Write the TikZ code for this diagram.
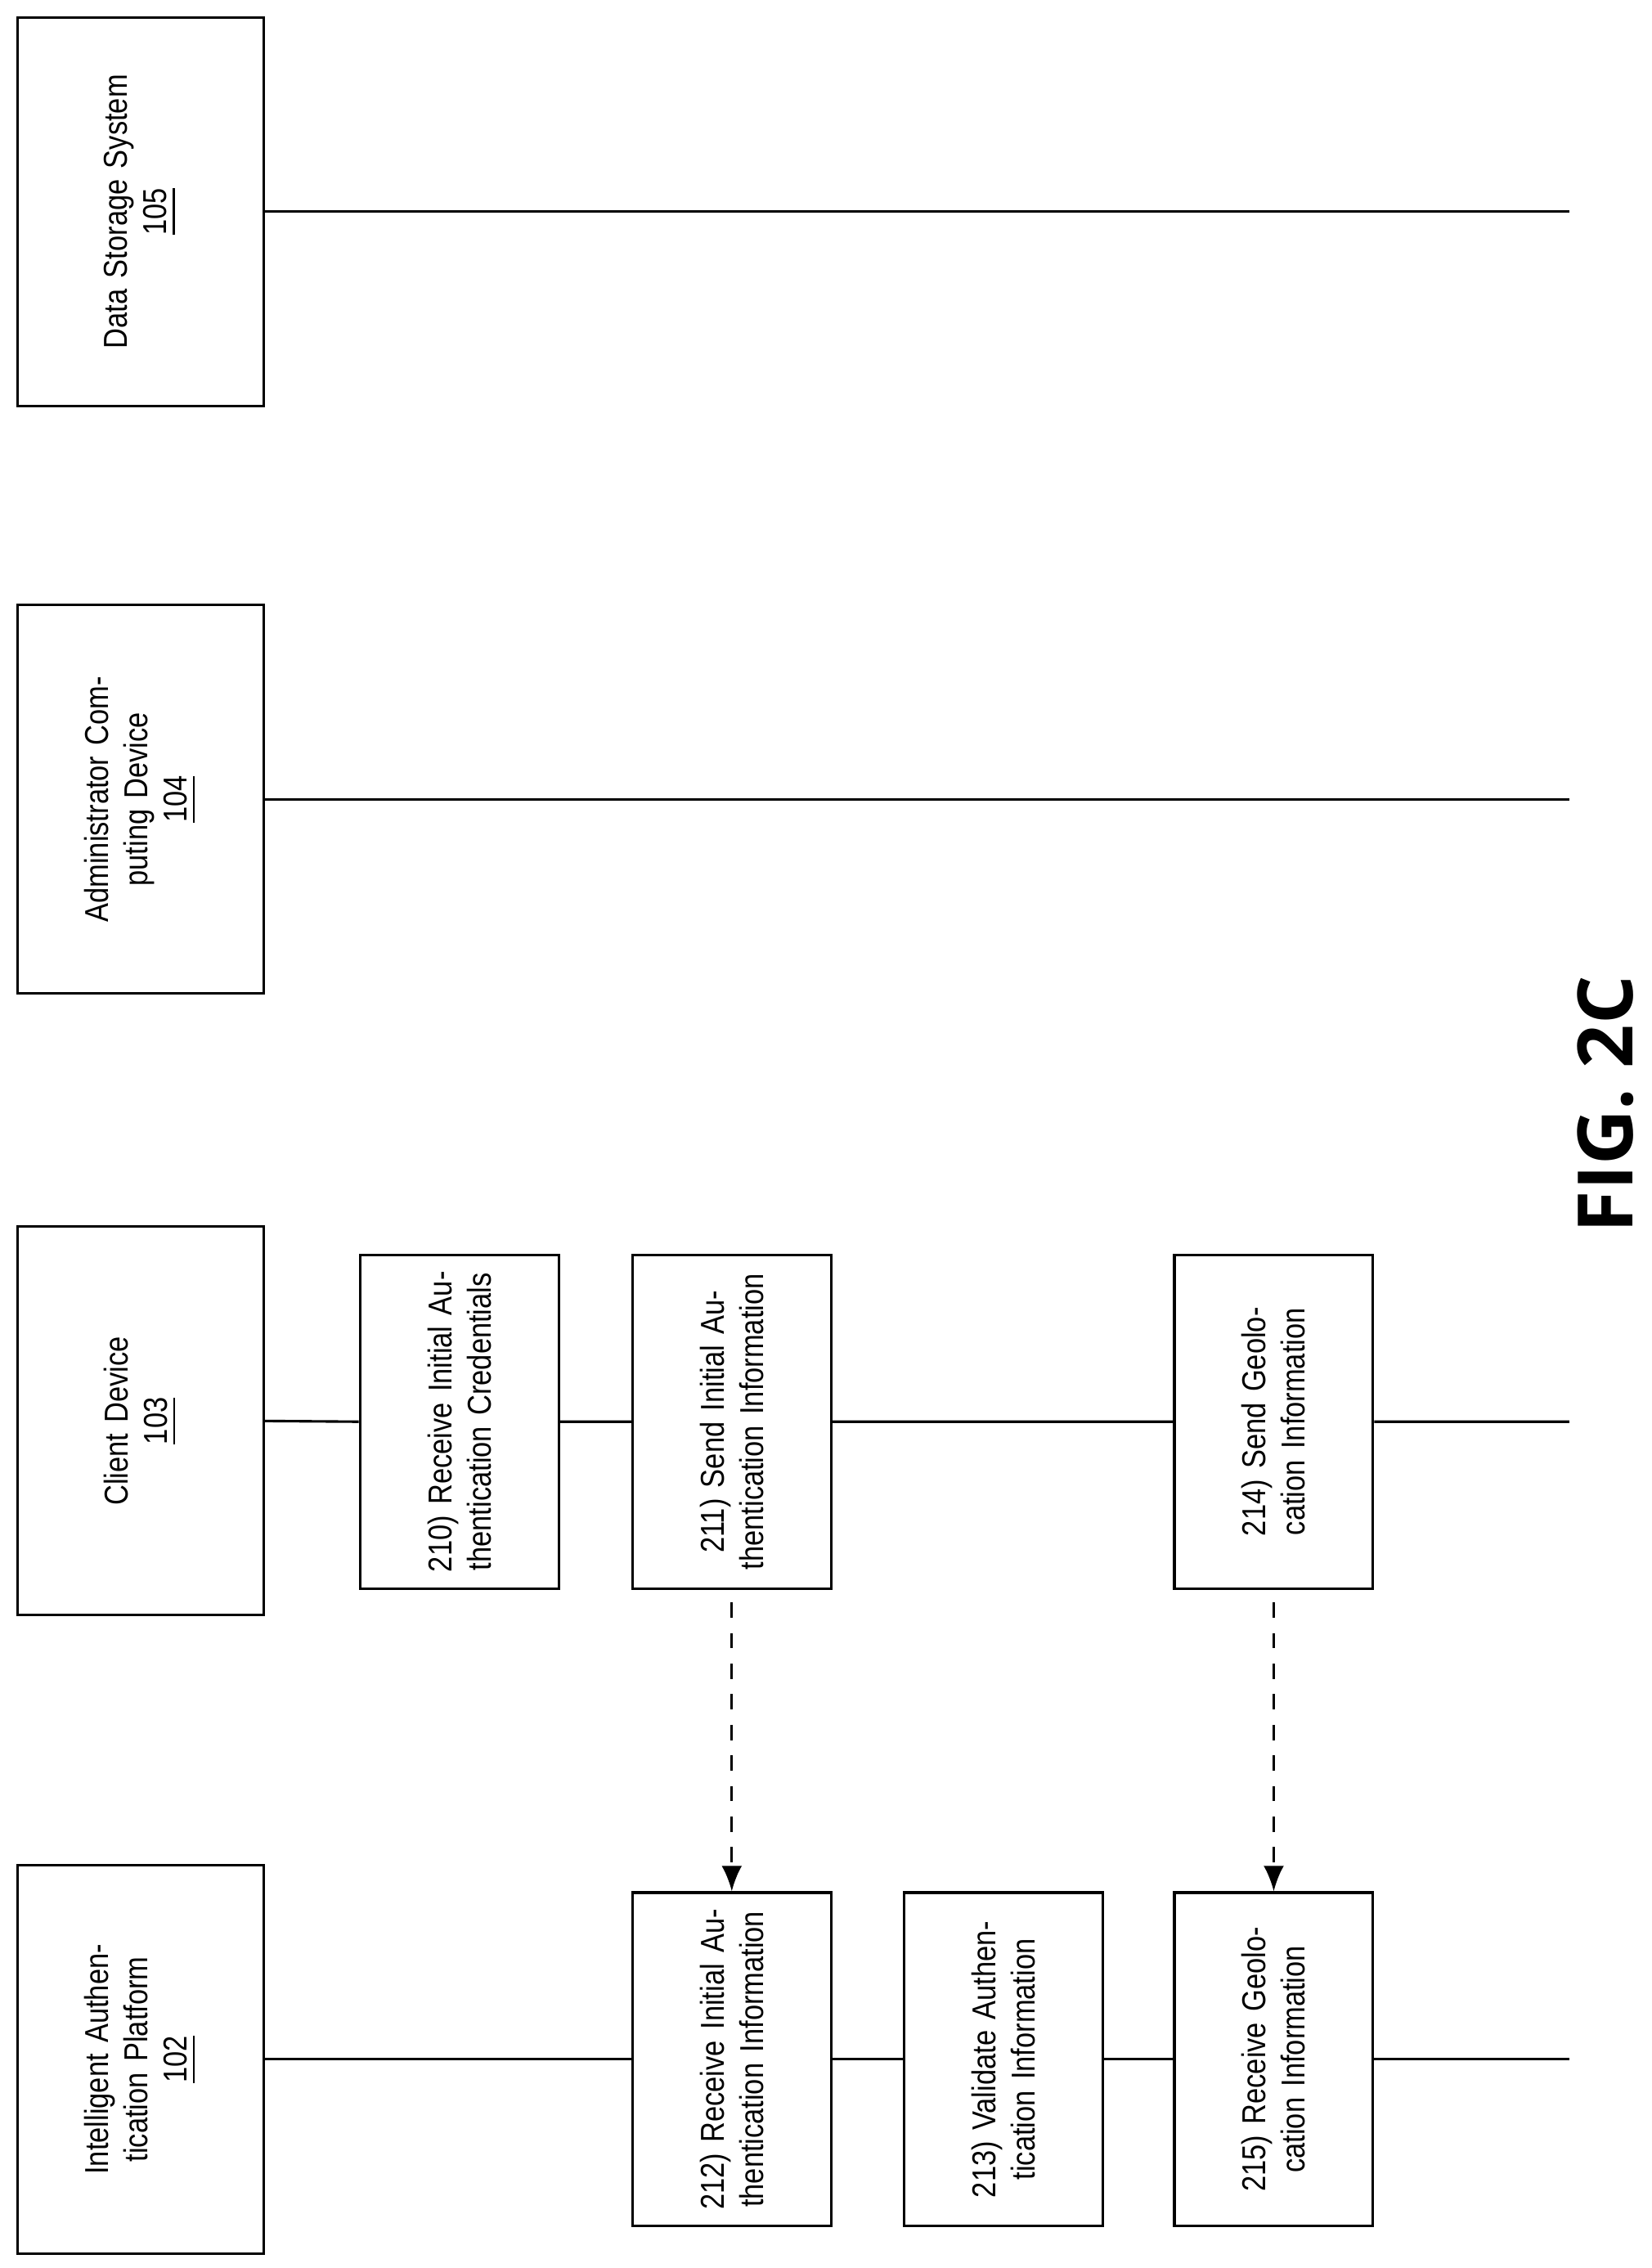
\documentclass[tikz,border=0pt]{standalone}
\usepackage{fontspec}
\setmainfont[FakeStretch=0.85]{Liberation Sans}
\newfontfamily\figfont{Open Sans}
\usetikzlibrary{arrows.meta,positioning}

\begin{document}
\begin{tikzpicture}[x=0.01cm,y=-0.01cm,
                actor/.style = {draw, line width=0.5pt, rotate=90, minimum width=2.68cm,
                                minimum height=1.70cm, text width=2.55cm, align=center,
                                inner sep=0pt, font=\fontsize{6.5}{7.7}\selectfont},
                stepbox/.style = {draw, line width=0.5pt, rotate=90, minimum width=2.30cm,
                                minimum height=1.37cm, text width=2.1cm, align=center,
                                inner sep=0pt, font=\fontsize{6.5}{7.7}\selectfont},
                life/.style = {line width=0.5pt},
                msg/.style = {dashed, line width=0.5pt, -{Latex[length=5pt,width=4pt]},
                              shorten <=2.5pt}]
    \useasboundingbox (0,0) rectangle (1140,1565);
    % actors
    \node[actor] (dss) at (97,146) {Data Storage System\\\underline{105}};
    \node[actor] (acd) at (97,551.5) {Administrator Computing Device\\\underline{104}};
    \node[actor] (cd) at (97,980.5) {Client Device\\\underline{103}};
    \node[actor] (iap) at (97,1421) {Intelligent Authentication Platform\\\underline{102}};
    % steps
    \node[stepbox] (s210) at (317,981) {210) Receive Initial Authentication Credentials};
    \node[stepbox] (s211) at (505,981) {211) Send Initial Authentication Information};
    \node[stepbox] (s214) at (879,981) {214) Send Geolocation Information};
    \node[stepbox] (s212) at (505,1421) {212) Receive Initial Authentication Information};
    \node[stepbox] (s213) at (692.5,1421) {213) Validate Authentication Information};
    \node[stepbox] (s215) at (879,1421) {215) Receive Geolocation Information};
    % line ends
    \coordinate (e105) at (1083,146);
    \coordinate (e104) at (1083,551.5);
    \coordinate (e103) at (1083,981);
    \coordinate (e102) at (1083,1421);
    % lifelines
    \draw[life] (dss.south) -- (e105);
    \draw[life] (acd.south) -- (e104);
    \draw[life] (cd.south) -- (s210.north) (s210.south) -- (s211.north)
                (s211.south) -- (s214.north) (s214.south) -- (e103);
    \draw[life] (iap.south) -- (s212.north) (s212.south) -- (s213.north)
                (s213.south) -- (s215.north) (s215.south) -- (e102);
    % messages
    \draw[msg] (s211.west) -- (s212.east);
    \draw[msg] (s214.west) -- (s215.east);
    \node[rotate=90, font=\figfont\bfseries\fontsize{15}{18}\selectfont] (fig) at (1108,762) {FIG. 2C};
\end{tikzpicture}
\end{document}
